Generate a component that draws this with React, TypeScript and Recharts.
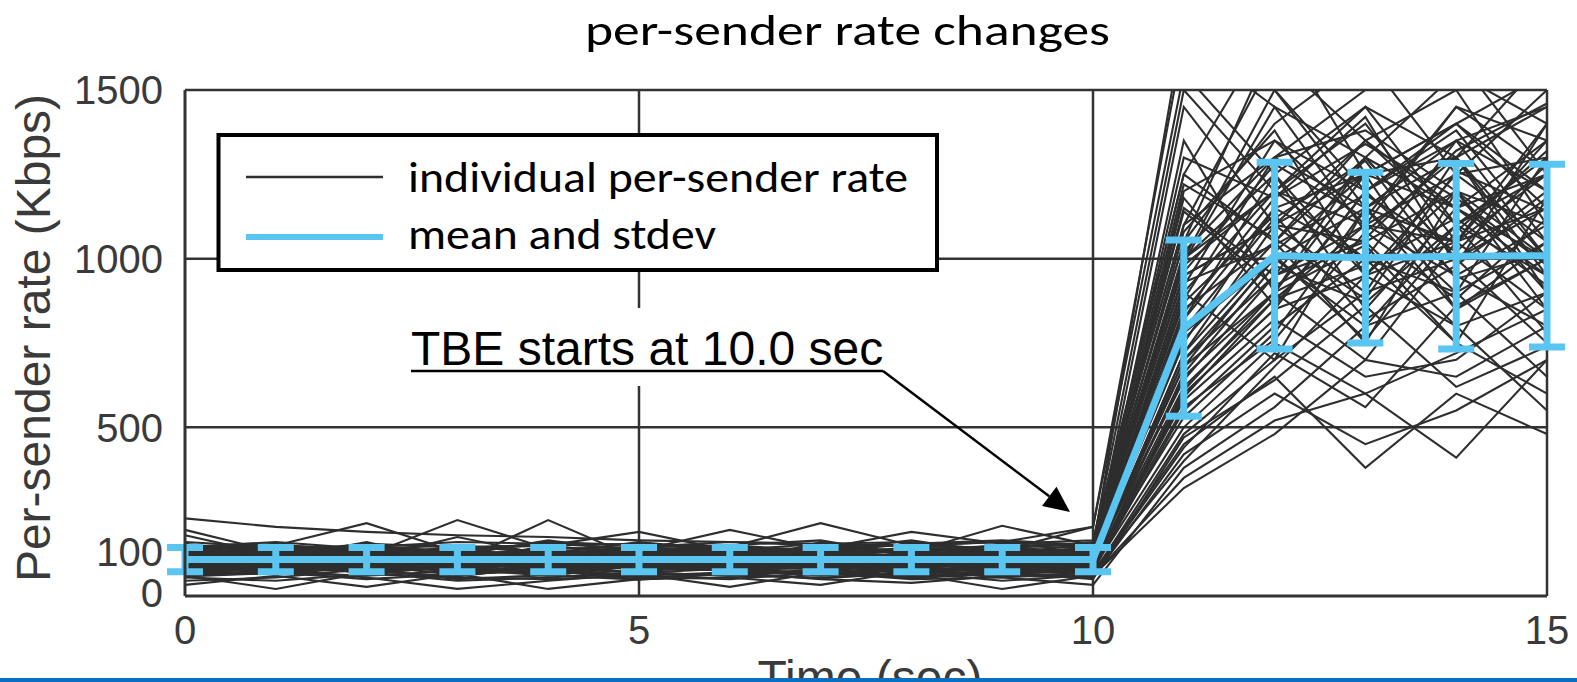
import React from 'react';
import { LineChart, Line, XAxis, YAxis, CartesianGrid, ErrorBar } from 'recharts';

// ---------- data ----------
const timePoints = [0, 1, 2, 3, 4, 5, 6, 7, 8, 9, 10, 11, 12, 13, 14, 15];

// each row: one sender, rate (Kbps) at t = 0..15
const senderRates: number[][] = [
  [230, 205, 190, 180, 175, 165, 160, 155, 150, 160, 205, 1650, 1450, 1300, 1550, 1400],
  [180, 120, 110, 175, 120, 100, 95, 140, 110, 95, 120, 1200, 1350, 1100, 1250, 1300],
  [95, 90, 105, 100, 225, 110, 105, 100, 130, 208, 150, 1250, 1700, 1250, 1400, 1550],
  [60, 21, 70, 45, 55, 70, 60, 55, 65, 21, 60, 320, 480, 700, 650, 800],
  [120, 130, 125, 140, 110, 120, 150, 165, 120, 110, 95, 900, 1200, 1450, 1100, 950],
  [75, 80, 55, 21, 45, 65, 27, 70, 50, 55, 70, 450, 650, 380, 600, 480],
  [100, 105, 95, 110, 100, 115, 120, 105, 110, 100, 105, 780, 1000, 1150, 900, 1050],
  [140, 150, 216, 130, 160, 150, 140, 130, 155, 165, 150, 1100, 1300, 1500, 1600, 1250],
  [110, 90, 85, 100, 95, 85, 90, 100, 95, 80, 85, 600, 850, 950, 1200, 1100],
  [65, 70, 60, 75, 80, 55, 65, 75, 60, 70, 80, 500, 750, 600, 410, 700],
  [130, 125, 140, 120, 135, 125, 110, 130, 140, 125, 130, 950, 1100, 900, 1300, 1000],
  [85, 100, 120, 90, 85, 110, 130, 90, 80, 115, 90, 700, 950, 1050, 800, 900],
  [150, 135, 120, 225, 140, 145, 160, 150, 130, 150, 140, 1000, 1500, 1200, 1350, 1450],
  [33, 60, 27, 65, 21, 50, 55, 33, 75, 55, 33, 380, 560, 800, 900, 650],
  [115, 110, 105, 120, 125, 100, 115, 120, 105, 130, 120, 850, 1050, 1300, 1000, 1150],
  [95, 70, 90, 80, 60, 90, 75, 85, 90, 65, 75, 550, 800, 1000, 750, 600],
  [125, 140, 130, 105, 115, 135, 140, 125, 120, 140, 135, 1000, 1250, 850, 1150, 1350],
  [70, 95, 80, 100, 90, 80, 100, 95, 85, 90, 100, 650, 900, 700, 1050, 850],
  [160, 145, 135, 140, 150, 155, 145, 216, 150, 140, 160, 1100, 1600, 1350, 1100, 1300],
  [105, 115, 110, 85, 100, 105, 95, 110, 115, 105, 110, 750, 1150, 1250, 1400, 1200],
  [55, 45, 65, 55, 50, 60, 70, 50, 39, 60, 55, 420, 600, 450, 550, 700],
  [135, 120, 150, 130, 125, 140, 130, 145, 135, 120, 145, 1050, 1400, 1600, 1250, 1500],
  [80, 90, 100, 70, 75, 95, 85, 80, 100, 85, 90, 620, 880, 1100, 950, 800],
  [145, 160, 140, 150, 130, 135, 196, 140, 190, 155, 165, 1250, 1050, 1350, 1500, 1100],
  [100, 80, 95, 105, 110, 90, 100, 90, 70, 95, 100, 700, 1000, 800, 1100, 1250],
  [120, 105, 115, 125, 95, 120, 110, 115, 125, 110, 115, 880, 1300, 1150, 850, 1050],
  [90, 110, 85, 95, 120, 100, 90, 105, 95, 100, 95, 680, 900, 1250, 1150, 950],
  [65, 75, 90, 80, 65, 75, 85, 65, 80, 75, 65, 480, 700, 900, 1000, 750],
  [110, 125, 105, 115, 130, 110, 125, 110, 100, 120, 125, 820, 1150, 1000, 1350, 1200],
  [196, 130, 155, 145, 150, 190, 135, 155, 160, 135, 205, 1550, 1250, 1450, 1300, 1600],
  [85, 95, 75, 90, 105, 80, 95, 100, 90, 105, 85, 580, 820, 650, 700, 900],
  [125, 115, 135, 110, 145, 130, 120, 135, 110, 125, 140, 1150, 950, 1100, 1450, 1350],
  [70, 65, 85, 75, 85, 70, 60, 80, 70, 80, 70, 400, 680, 950, 800, 550],
  [140, 155, 125, 135, 120, 145, 150, 125, 140, 145, 125, 1000, 1200, 1400, 1050, 1150],
  [100, 100, 110, 100, 90, 95, 105, 115, 105, 90, 110, 760, 1050, 750, 1200, 1000],
  [115, 85, 100, 120, 105, 115, 100, 95, 120, 115, 100, 920, 1350, 1200, 950, 1100],
  [60, 70, 50, 65, 75, 50, 70, 65, 55, 65, 60, 350, 520, 600, 720, 850],
  [130, 140, 120, 125, 135, 120, 135, 140, 125, 130, 135, 950, 1100, 1050, 1200, 900],
  [95, 105, 130, 100, 80, 100, 110, 90, 100, 110, 105, 640, 950, 1300, 1000, 1200],
  [145, 120, 145, 160, 155, 140, 125, 145, 150, 160, 145, 1700, 1500, 1150, 1300, 1450],
  [75, 85, 70, 85, 95, 85, 75, 70, 85, 70, 95, 530, 780, 1150, 1350, 1000],
  [120, 100, 125, 95, 115, 125, 140, 120, 95, 100, 130, 980, 1200, 1000, 900, 1300],
  [105, 95, 90, 110, 100, 110, 95, 100, 115, 95, 90, 720, 1100, 1350, 1150, 1000],
  [135, 150, 140, 115, 125, 135, 145, 130, 135, 150, 150, 1050, 1650, 1500, 1700, 1550],
  [90, 75, 95, 105, 70, 90, 85, 105, 75, 85, 80, 600, 850, 1200, 1400, 1150],
  [110, 100, 115, 90, 105, 120, 100, 110, 95, 120, 100, 1350, 900, 1300, 1150, 1250],
  [80, 95, 85, 115, 95, 80, 90, 85, 110, 90, 85, 820, 1250, 950, 1250, 1050],
  [125, 110, 95, 105, 120, 95, 115, 125, 100, 105, 120, 1450, 1100, 1250, 850, 1000],
  [100, 120, 110, 95, 85, 105, 120, 95, 105, 80, 95, 900, 700, 1150, 1050, 1350],
  [70, 80, 90, 75, 100, 85, 95, 80, 90, 100, 75, 660, 980, 870, 1100, 780],
  [105, 120, 100, 130, 110, 95, 125, 105, 115, 100, 115, 1080, 1380, 950, 1050, 1250],
  [88, 75, 110, 95, 120, 105, 80, 115, 90, 120, 95, 720, 1020, 1250, 1300, 950],
  [140, 130, 110, 150, 125, 160, 135, 120, 145, 130, 120, 1300, 1180, 1420, 980, 1180],
  [62, 88, 75, 58, 90, 68, 82, 60, 78, 62, 88, 560, 760, 1080, 880, 1120],
  [118, 100, 135, 125, 95, 140, 110, 140, 105, 135, 105, 990, 1450, 1080, 1300, 900],
  [95, 140, 90, 110, 130, 100, 145, 95, 125, 110, 125, 870, 1130, 820, 980, 1400],
  [150, 110, 160, 100, 150, 120, 95, 160, 120, 145, 110, 1180, 860, 1200, 1380, 1050],
  [78, 105, 65, 90, 68, 95, 75, 100, 62, 88, 72, 610, 900, 1040, 750, 1180],
  [128, 95, 118, 140, 100, 130, 105, 120, 135, 95, 130, 1020, 1300, 1380, 1200, 850],
  [45, 55, 80, 50, 62, 48, 66, 52, 70, 45, 62, 440, 720, 560, 860, 1000],
  [112, 128, 98, 118, 140, 112, 130, 108, 98, 140, 110, 930, 1040, 1190, 1020, 1280],
  [135, 115, 128, 108, 112, 150, 118, 140, 128, 112, 140, 1220, 1060, 880, 1260, 1140],
  [98, 80, 88, 125, 108, 92, 102, 88, 118, 80, 100, 790, 1120, 1290, 940, 1020],
  [68, 92, 105, 82, 75, 102, 88, 92, 70, 98, 80, 590, 880, 980, 1120, 920],
  [155, 125, 145, 120, 165, 130, 150, 135, 165, 125, 155, 1500, 1200, 1100, 1050, 1400],
  [120, 150, 108, 138, 98, 118, 95, 130, 108, 150, 118, 960, 1280, 1120, 1450, 1260],
  [85, 118, 125, 70, 115, 75, 112, 78, 120, 75, 108, 680, 1010, 760, 1080, 1320],
  [102, 88, 80, 98, 128, 135, 85, 118, 85, 128, 85, 840, 1180, 1340, 1180, 980],
  [132, 105, 120, 132, 88, 108, 138, 112, 138, 105, 135, 1140, 920, 1060, 1320, 1460],
  [58, 68, 92, 62, 82, 58, 50, 70, 58, 72, 50, 470, 640, 860, 620, 740],
];

const meanRate = [108, 108, 108, 108, 108, 108, 108, 108, 108, 108, 108, 794, 1009, 1003, 1007, 1009];
const stdRate = [36, 36, 36, 36, 36, 36, 36, 36, 36, 36, 36, 261, 277, 253, 275, 271];

const xTicks = [0, 5, 10, 15];
const yTicks = [0, 100, 500, 1000, 1500];
const gridYValues = [500, 1000, 1500];
const gridXValues = [5, 10, 15];

const titleText = 'per-sender rate changes';
const legendLabels = ['individual per-sender rate', 'mean and stdev'];
const annotationText = 'TBE starts at 10.0 sec';
const xAxisTitle = 'Time (sec)';
const yAxisTitle = 'Per-sender rate (Kbps)';

// ---------- table for the chart ----------
const chartData = timePoints.map((t, i) => {
  const row: Record<string, number> = { t, mean: meanRate[i], std: stdRate[i] };
  senderRates.forEach((s, k) => {
    row['s' + k] = s[i];
  });
  return row;
});

// ---------- styles ----------
const BLUE = '#5BC5F2';
const LINE_GRAY = '#2e2e2e';
const AXIS_TEXT = '#3a3a3a';
const ARIAL = '"Liberation Sans", Arial, Helvetica, sans-serif';
const CALIBRI = 'Carlito, Calibri, Lato, "Open Sans", sans-serif';

const YTick = (props: any) => {
  const { x, y, payload } = props;
  const shift = payload.value === 100 ? -11 : payload.value === 0 ? -3 : 0;
  return (
    <text x={x} y={y + shift + 14.3} textAnchor="end" fontFamily={ARIAL} fontSize={40} fill={AXIS_TEXT}>
      {payload.value}
    </text>
  );
};

const XTick = (props: any) => {
  const { x, y, payload } = props;
  return (
    <text x={x} y={y + 34 + 14.3} textAnchor="middle" fontFamily={ARIAL} fontSize={40} fill={AXIS_TEXT}>
      {payload.value}
    </text>
  );
};

const XTitle = () => (
  <text x={870} y={694} textAnchor="middle" fontFamily={ARIAL} fontSize={48} fill={AXIS_TEXT}>
    {xAxisTitle}
  </text>
);

const YTitle = () => (
  <text transform="translate(50,338) rotate(-90)" x={0} y={0} textAnchor="middle" fontFamily={ARIAL} fontSize={48} fill={AXIS_TEXT}>
    {yAxisTitle}
  </text>
);

const Overlay = () => {
  // arrow geometry (annotation, not data)
  const sx = 883, sy = 371, tx = 1070, ty = 512;
  const dx = tx - sx, dy = ty - sy;
  const len = Math.sqrt(dx * dx + dy * dy);
  const ux = dx / len, uy = dy / len;
  const headL = 26, headW = 12;
  const bx = tx - ux * headL, by = ty - uy * headL;
  const px = -uy, py = ux;
  const head = `${tx},${ty} ${bx + px * headW},${by + py * headW} ${bx - px * headW},${by - py * headW}`;
  return (
    <svg width={1577} height={682} style={{ position: 'absolute', left: 0, top: 0, pointerEvents: 'none' }}>
      <text x={847.5} y={45} textAnchor="middle" fontFamily={CALIBRI} fontSize={44} fill="#000" textLength={525} lengthAdjust="spacingAndGlyphs">
        {titleText}
      </text>
      {/* legend */}
      <rect x={218.5} y={135} width={718.5} height={135} fill="#fff" stroke="#000" strokeWidth={4} />
      <line x1={246} y1={177} x2={383} y2={177} stroke={LINE_GRAY} strokeWidth={2.5} />
      <line x1={246} y1={237} x2={383} y2={237} stroke={BLUE} strokeWidth={6} />
      <text x={408} y={192} fontFamily={CALIBRI} fontSize={44} fill="#000" textLength={500} lengthAdjust="spacingAndGlyphs">
        {legendLabels[0]}
      </text>
      <text x={408} y={249} fontFamily={CALIBRI} fontSize={44} fill="#000" textLength={308} lengthAdjust="spacingAndGlyphs">
        {legendLabels[1]}
      </text>
      {/* annotation */}
      <rect x={404} y={308} width={486} height={78} fill="#fff" />
      <text x={411} y={365} fontFamily={ARIAL} fontSize={48} fill="#000">
        {annotationText}
      </text>
      <line x1={411} y1={371} x2={sx} y2={sy} stroke="#000" strokeWidth={2.5} />
      <line x1={sx} y1={sy} x2={bx} y2={by} stroke="#000" strokeWidth={2.5} />
      <polygon points={head} fill="#000" />
      {/* slide bottom bar */}
      <rect x={0} y={678} width={1577} height={4} fill="#0B6FC0" />
    </svg>
  );
};

export default function App() {
  return (
    <div style={{ position: 'absolute', left: 0, top: 0, width: 1577, height: 682, background: '#fff', overflow: 'hidden' }}>
      <LineChart width={1577} height={682} data={chartData} margin={{ top: 90, right: 30, bottom: 0, left: 0 }}>
        <CartesianGrid
          horizontalValues={gridYValues}
          verticalValues={gridXValues}
          stroke="#333"
          strokeWidth={2.5}
          fill="none"
        />
        <XAxis
          dataKey="t"
          type="number"
          domain={[0, 15]}
          ticks={xTicks}
          interval={0}
          height={86}
          tickSize={0}
          tickMargin={0}
          tickLine={false}
          axisLine={{ stroke: '#333', strokeWidth: 3 }}
          tick={<XTick />}
          label={<XTitle />}
        />
        <YAxis
          type="number"
          domain={[0, 1500]}
          allowDataOverflow
          ticks={yTicks}
          interval={0}
          width={185}
          tickSize={0}
          tickMargin={22}
          tickLine={false}
          axisLine={{ stroke: '#333', strokeWidth: 3 }}
          tick={<YTick />}
          label={<YTitle />}
        />
        {senderRates.map((_, k) => (
          <Line
            key={'s' + k}
            dataKey={'s' + k}
            type="linear"
            stroke={LINE_GRAY}
            strokeWidth={2.1}
            dot={false}
            activeDot={false}
            isAnimationActive={false}
          />
        ))}
        <Line
          dataKey="mean"
          type="linear"
          stroke={BLUE}
          strokeWidth={7}
          dot={false}
          activeDot={false}
          isAnimationActive={false}
        >
          <ErrorBar dataKey="std" direction="y" width={18} stroke={BLUE} strokeWidth={7} />
        </Line>
      </LineChart>
      <Overlay />
    </div>
  );
}
